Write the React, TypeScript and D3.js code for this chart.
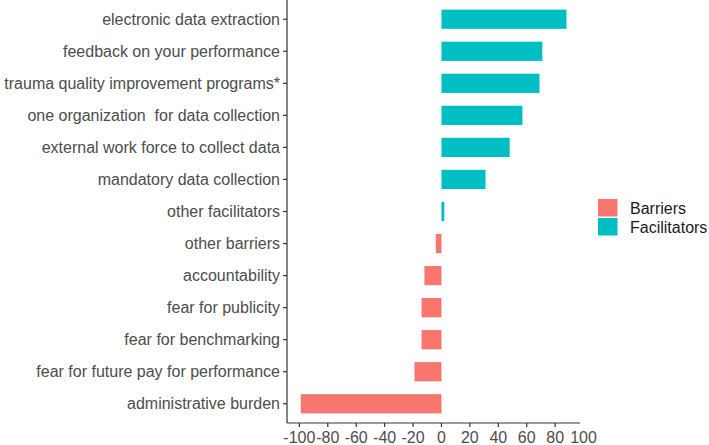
import React from "react";
import * as d3 from "d3";

const categories = [
  "electronic data extraction",
  "feedback on your performance",
  "trauma quality improvement programs*",
  "one organization  for data collection",
  "external work force to collect data",
  "mandatory data collection",
  "other facilitators",
  "other barriers",
  "accountability",
  "fear for publicity",
  "fear for benchmarking",
  "fear for future pay for performance",
  "administrative burden",
];
const values = [88, 71, 69, 57, 48, 31, 2, -4, -12, -14, -14, -19, -99];
const groups = ["Facilitators", "Facilitators", "Facilitators", "Facilitators", "Facilitators", "Facilitators", "Facilitators", "Barriers", "Barriers", "Barriers", "Barriers", "Barriers", "Barriers"];
const legendKeys = ["Barriers", "Facilitators"];
const xTicks = [-100, -80, -60, -40, -20, 0, 20, 40, 60, 80, 100];

const W = 709;
const H = 445;
const plotLeft = 287;
const plotRight = 580;
const plotTop = 0;
const plotBottom = 423;

export default function App() {
  const x = d3.scaleLinear().domain([-108.7, 97.5]).range([plotLeft, plotRight]);
  const y = d3
    .scaleBand<string>()
    .domain(categories)
    .range([plotTop, plotBottom])
    .paddingInner(0.4)
    .paddingOuter(0.3);
  const color = d3.scaleOrdinal<string, string>().domain(legendKeys).range(["#F8766D", "#00BFC4"]);
  const font = "'Liberation Sans', Arial, sans-serif";
  const axisColor = "#333333";
  return (
    <div style={{ position: "absolute", left: 0, top: 0 }}>
      <svg width={W} height={H} style={{ display: "block", background: "#fff" }}>
        {categories.map((c, i) => {
          const v = values[i];
          const x0 = x(Math.min(0, v));
          const x1 = x(Math.max(0, v));
          return (
            <rect
              key={c}
              x={x0}
              y={y(c)}
              width={Math.max(0, x1 - x0)}
              height={y.bandwidth()}
              fill={color(groups[i])}
            />
          );
        })}
        {/* y axis */}
        <line x1={plotLeft} x2={plotLeft} y1={plotTop} y2={plotBottom} stroke={axisColor} strokeWidth={1.2} />
        {categories.map((c) => {
          const cy = (y(c) as number) + y.bandwidth() / 2;
          return (
            <g key={c}>
              <line x1={plotLeft - 4} x2={plotLeft} y1={cy} y2={cy} stroke={axisColor} strokeWidth={1.2} />
              <text
                x={plotLeft - 7}
                y={cy}
                textAnchor="end"
                dominantBaseline="central"
                fontFamily={font}
                fontSize={16}
                fill="#4D4D4D"
                style={{ whiteSpace: "pre" }}
              >
                {c}
              </text>
            </g>
          );
        })}
        {/* x axis */}
        <line x1={plotLeft} x2={plotRight} y1={plotBottom} y2={plotBottom} stroke={axisColor} strokeWidth={1.2} />
        {xTicks.map((t) => (
          <g key={t}>
            {x(t) <= plotRight && (
              <line x1={x(t)} x2={x(t)} y1={plotBottom} y2={plotBottom + 4} stroke={axisColor} strokeWidth={1.2} />
            )}
            <text
              x={x(t)}
              y={443}
              textAnchor="middle"
              fontFamily={font}
              fontSize={16}
              fill="#4D4D4D"
            >
              {t}
            </text>
          </g>
        ))}
        {/* legend */}
        {legendKeys.map((k, i) => (
          <g key={k} transform={`translate(598, ${199 + i * 19})`}>
            <rect x={0} y={0} width={19.5} height={17.5} fill={color(k)} />
            <text x={32} y={9} dominantBaseline="central" fontFamily={font} fontSize={16} fill="#1a1a1a">
              {k}
            </text>
          </g>
        ))}
      </svg>
    </div>
  );
}
